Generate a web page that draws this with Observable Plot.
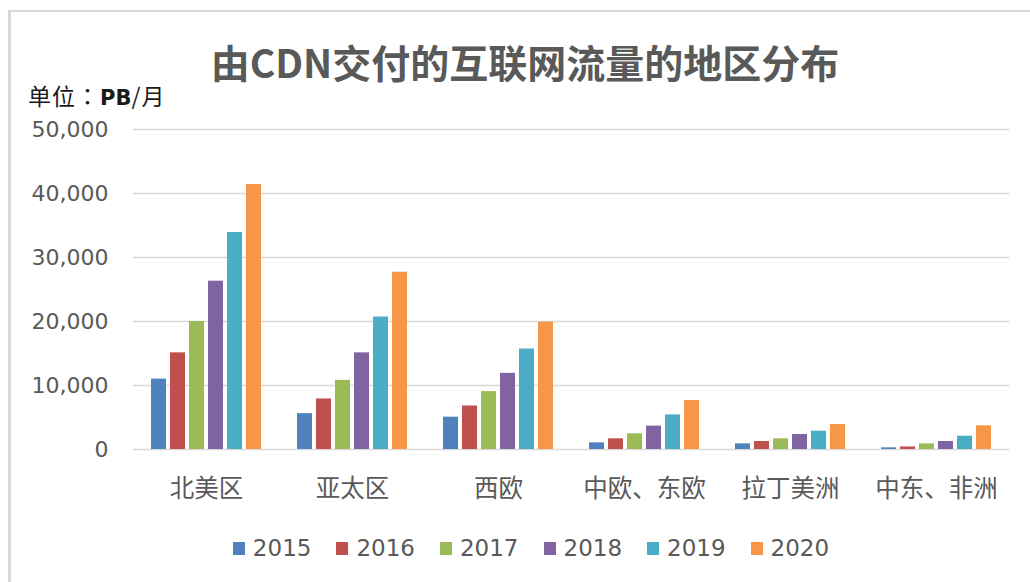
<!DOCTYPE html>
<html>
<head>
<meta charset="utf-8">
<script src="https://cdn.jsdelivr.net/npm/d3@7"></script>
<script src="https://cdn.jsdelivr.net/npm/@observablehq/plot@0.6"></script>
<style>
  html, body { margin: 0; padding: 0; background: #fff; width: 1030px; height: 582px; overflow: hidden; }
  #frame { position: absolute; left: 8px; top: 10px; right: -10px; bottom: -10px; border-left: 3px solid #d9d9d9; border-top: 2px solid #d9d9d9; }
  #title { position: absolute; left: 525px; top: 42px; transform: translateX(-50%); white-space: nowrap;
           font-family: "Noto Sans CJK SC", sans-serif; font-weight: 700; font-size: 39px; color: #595959; line-height: 1; }
  #unit { position: absolute; left: 28px; top: 84px; font-family: "Noto Sans CJK TC", "Noto Sans CJK SC", sans-serif; font-size: 23px; color: #1a1a1a; line-height: 1; white-space: nowrap; letter-spacing: 1px; }
  #unit b { font-weight: 700; font-family: "DejaVu Sans", sans-serif; font-size: 21px; letter-spacing: 0; }
  #chart { position: absolute; left: 0; top: 0; }
  #chart svg g[aria-label="fx-axis tick label"] text { font-family: "Noto Sans CJK SC", sans-serif; }
  #legend { position: absolute; left: 0; width: 1062px; top: 535px; display: flex; justify-content: center; gap: 25px;
            font-family: "DejaVu Sans", sans-serif; font-size: 23px; color: #595959; }
  .item { display: flex; align-items: center; gap: 8px; line-height: 26px; }
  .sw { width: 12px; height: 13px; display: inline-block; }
</style>
</head>
<body>
<div id="frame"></div>
<div id="title">由CDN交付的互联网流量的地区分布</div>
<div id="unit">单位：<b>PB</b>/月</div>
<div id="chart"></div>
<div id="legend"></div>
<script>
const regions = ["北美区", "亚太区", "西欧", "中欧、东欧", "拉丁美洲", "中东、非洲"];
const years = ["2015", "2016", "2017", "2018", "2019", "2020"];
const values2015 = [11000, 5600, 5050, 1040, 880, 260];
const values2016 = [15100, 7900, 6800, 1670, 1250, 400];
const values2017 = [20000, 10800, 9050, 2450, 1670, 880];
const values2018 = [26300, 15100, 11900, 3650, 2340, 1250];
const values2019 = [33900, 20700, 15700, 5400, 2860, 2080];
const values2020 = [41400, 27700, 19900, 7650, 3900, 3700];
const yTicks = [0, 10000, 20000, 30000, 40000, 50000];
const colors = ["#4f81bd", "#c0504d", "#9bbb59", "#8064a2", "#4bacc6", "#f79646"];

const series = [values2015, values2016, values2017, values2018, values2019, values2020];
const data = [];
regions.forEach((r, i) => {
  years.forEach((yr, j) => data.push({region: r, year: yr, value: series[j][i]}));
});

const chart = Plot.plot({
  width: 1030,
  height: 520,
  marginLeft: 132,
  marginRight: 19,
  marginTop: 129,
  marginBottom: 71,
  style: {fontFamily: "DejaVu Sans, Noto Sans CJK SC, sans-serif", background: "transparent", color: "#595959"},
  fx: {domain: regions, paddingInner: 0.23, paddingOuter: 0.115, label: null},
  x: {domain: years, paddingInner: 0.22, paddingOuter: 0, axis: null},
  y: {domain: [0, 50000], axis: null},
  color: {domain: years, range: colors},
  marks: [
    Plot.ruleY(yTicks, {stroke: "#d9d9d9", strokeWidth: 1.5, insetLeft: -17, insetRight: -17}),
    Plot.barY(data, {fx: "region", x: "year", y: "value", fill: "year"}),
    Plot.axisY({ticks: yTicks, tickFormat: d3.format(","), tickSize: 0, tickPadding: 42, fontSize: 22, label: null, fill: "#595959"}),
    Plot.axisFx({anchor: "bottom", tickSize: 0, tickPadding: 30, fontSize: 24.5, label: null, fill: "#595959"})
  ]
});
document.getElementById("chart").appendChild(chart);

const legend = document.getElementById("legend");
years.forEach((yr, j) => {
  const it = document.createElement("div");
  it.className = "item";
  const sw = document.createElement("span");
  sw.className = "sw";
  sw.style.background = colors[j];
  const t = document.createElement("span");
  t.textContent = yr;
  it.appendChild(sw);
  it.appendChild(t);
  legend.appendChild(it);
});
</script>
</body>
</html>
